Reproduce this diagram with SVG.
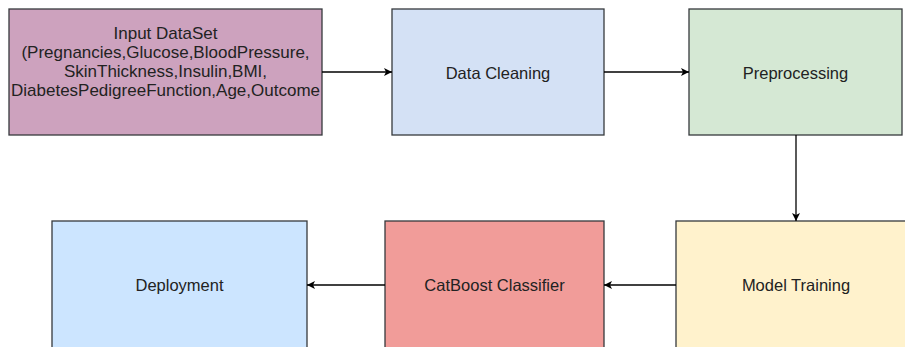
<svg xmlns="http://www.w3.org/2000/svg" width="905" height="347" viewBox="0 0 905 347">
<defs>
<style>
.box{stroke:#36393d;stroke-width:1.3}
.t{font-family:"Liberation Sans",Arial,sans-serif;font-size:16.5px;fill:#222;text-anchor:middle}
.big{font-size:17px}
.c{stroke:#000;stroke-width:1.3;fill:none}
</style>
<marker id="ah" markerWidth="10" markerHeight="10" refX="9" refY="5" orient="auto" markerUnits="userSpaceOnUse">
<path d="M1,1 L9,5 L1,9 L3,5 z" fill="#000"/>
</marker>
</defs>
<rect width="905" height="347" fill="#fff"/>
<g id="input">
<rect class="box" x="9" y="9" width="313" height="126" fill="#CDA2BE"/>
<text class="t big" x="165.5" y="38.5">Input DataSet</text>
<text class="t big" x="165.5" y="57.5">(Pregnancies,Glucose,BloodPressure,</text>
<text class="t big" x="165.5" y="76.5">SkinThickness,Insulin,BMI,</text>
<text class="t big" x="165.5" y="95.5">DiabetesPedigreeFunction,Age,Outcome</text>
</g>
<g id="cleaning">
<rect class="box" x="392" y="9" width="212" height="126" fill="#D4E1F5"/>
<text class="t" x="498" y="78.5">Data Cleaning</text>
</g>
<g id="preprocessing">
<rect class="box" x="689" y="9" width="213" height="126" fill="#D5E8D4"/>
<text class="t" x="795.5" y="78.5">Preprocessing</text>
</g>
<g id="training">
<rect class="box" x="676" y="221" width="240" height="128" fill="#FFF2CC"/>
<text class="t" x="796" y="291">Model Training</text>
</g>
<g id="catboost">
<rect class="box" x="385" y="221" width="219" height="128" fill="#F19C99"/>
<text class="t" x="494.5" y="291">CatBoost Classifier</text>
</g>
<g id="deployment">
<rect class="box" x="52" y="221" width="255" height="128" fill="#CCE5FF"/>
<text class="t" x="179.5" y="291">Deployment</text>
</g>
<g id="connectors">
<line class="c" x1="322" y1="72" x2="392" y2="72" marker-end="url(#ah)"/>
<line class="c" x1="604" y1="72" x2="689" y2="72" marker-end="url(#ah)"/>
<line class="c" x1="796" y1="135" x2="796" y2="221" marker-end="url(#ah)"/>
<line class="c" x1="676" y1="285" x2="604" y2="285" marker-end="url(#ah)"/>
<line class="c" x1="385" y1="285" x2="307" y2="285" marker-end="url(#ah)"/>
</g>
</svg>
